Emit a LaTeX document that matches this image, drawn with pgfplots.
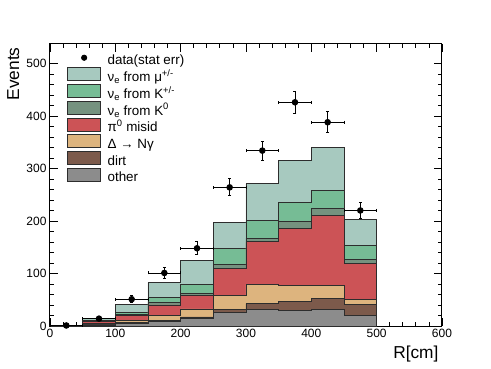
\documentclass[border=0pt]{standalone}
\usepackage{fontspec}
\setmainfont{Liberation Sans}
\usepackage{pgfplots}
\usepackage{pgfplotstable}
\pgfplotsset{compat=1.18}

\definecolor{cmu}{RGB}{167,201,191}
\definecolor{ckpm}{RGB}{118,188,149}
\definecolor{ckz}{RGB}{117,146,127}
\definecolor{cpi}{RGB}{204,83,86}
\definecolor{cdel}{RGB}{221,180,126}
\definecolor{cdirt}{RGB}{124,90,75}
\definecolor{coth}{RGB}{140,140,140}
\definecolor{edge}{RGB}{45,45,45}

% cumulative stack heights (top of each layer), bin left edges, last row repeats
\pgfplotstableread{
x    tot    kpm    kz     pi     del   dirt  oth
0    0.4    0.3    0.3    0.2    0.2   0.1   0.1
50   14.5   11.5   10.0   8.5    5.0   3.0   2.0
100  41.5   26.0   22.2   19.6   10.4  6.6   4.7
150  82.5   54.3   44.4   40.0   19.6  9.8   8.0
200  125.3  79.6   62.5   57.8   32.4  17.2  14.8
250  196.4  148.5  116.7  109.5  57.4  31.4  25.4
300  270.7  200.2  167.2  160.9  79.0  42.8  31.4
350  314.5  234.5  198.3  186.3  76.4  46.0  28.8
400  340.6  258.7  223.0  209.7  77.7  52.4  31.4
450  203.7  152.5  127.0  119.4  50.7  41.3  20.0
500  203.7  152.5  127.0  119.4  50.7  41.3  20.0
}\stack

\pgfplotstableread{
x    y    ex   ey
25   1    25   1.0
75   14   25   3.7
125  51   25   7.1
175  101  25   10.0
225  148  25   12.2
275  264  25   16.2
325  334  25   18.3
375  426  25   20.6
425  388  25   19.7
475  220  25   14.8
}\data

\begin{document}
\begin{tikzpicture}
\begin{axis}[
    at={(0,0)}, anchor=south west,
    scale only axis, width=392pt, height=282pt,
    xmin=0, xmax=600, ymin=0, ymax=537,
    xtick={0,100,...,600}, ytick={0,100,...,500},
    minor x tick num=4, minor y tick num=4,
    tick align=inside,
    major tick length=8pt, minor tick length=4pt,
    tick style={black, line width=0.8pt},
    axis line style={black, line width=1pt},
    /pgf/number format/assume math mode=true,
    ticklabel style={font=\fontsize{12}{14}\selectfont},
    xlabel={R[cm]}, ylabel={Events},
    label style={font=\fontsize{17.3}{20}\selectfont},
    xlabel style={at={(axis description cs:1,-0.117)}, anchor=base east},
    ylabel style={at={(axis description cs:-0.079,1)}, anchor=base east},
    legend style={at={(axis description cs:0.0434,0.975)}, anchor=north west,
        draw=none, fill=none, inner sep=0pt,
        font=\fontsize{13.4}{16}\selectfont,
        nodes={inner sep=0.5pt, text height=0.75em, text depth=0.2em},
        row sep=0pt, column sep=6pt, cells={anchor=west}},
    every axis plot/.append style={const plot mark left, draw=edge, line width=0.9pt},
]
\addlegendimage{legend image code/.code={\path[draw=none, fill=none] (0pt,-2pt) rectangle (33pt,11pt); \fill[black] (16.5pt,4.5pt) circle (2.6pt);}}
\addlegendentry{data(stat err)}
\addlegendimage{legend image code/.code={\draw[draw=edge, line width=0.9pt, fill=cmu] (0pt,-2pt) rectangle (33pt,11pt);}}
\addlegendentry{ν\textsubscript{e} from μ\textsuperscript{+/-}}
\addlegendimage{legend image code/.code={\draw[draw=edge, line width=0.9pt, fill=ckpm] (0pt,-2pt) rectangle (33pt,11pt);}}
\addlegendentry{ν\textsubscript{e} from K\textsuperscript{+/-}}
\addlegendimage{legend image code/.code={\draw[draw=edge, line width=0.9pt, fill=ckz] (0pt,-2pt) rectangle (33pt,11pt);}}
\addlegendentry{ν\textsubscript{e} from K\textsuperscript{0}}
\addlegendimage{legend image code/.code={\draw[draw=edge, line width=0.9pt, fill=cpi] (0pt,-2pt) rectangle (33pt,11pt);}}
\addlegendentry{π\textsuperscript{0} misid}
\addlegendimage{legend image code/.code={\draw[draw=edge, line width=0.9pt, fill=cdel] (0pt,-2pt) rectangle (33pt,11pt);}}
\addlegendentry{Δ → Nγ}
\addlegendimage{legend image code/.code={\draw[draw=edge, line width=0.9pt, fill=cdirt] (0pt,-2pt) rectangle (33pt,11pt);}}
\addlegendentry{dirt}
\addlegendimage{legend image code/.code={\draw[draw=edge, line width=0.9pt, fill=coth] (0pt,-2pt) rectangle (33pt,11pt);}}
\addlegendentry{other}

\addplot[fill=cmu, forget plot] table[x=x, y=tot] {\stack} \closedcycle;
\addplot[fill=ckpm, forget plot] table[x=x, y=kpm] {\stack} \closedcycle;
\addplot[fill=ckz, forget plot] table[x=x, y=kz] {\stack} \closedcycle;
\addplot[fill=cpi, forget plot] table[x=x, y=pi] {\stack} \closedcycle;
\addplot[fill=cdel, forget plot] table[x=x, y=del] {\stack} \closedcycle;
\addplot[fill=cdirt, forget plot] table[x=x, y=dirt] {\stack} \closedcycle;
\addplot[fill=coth, forget plot] table[x=x, y=oth] {\stack} \closedcycle;

\addplot[sharp plot, only marks, forget plot, mark=*, mark size=2.8pt, black,
    error bars/.cd, x dir=both, x explicit, y dir=both, y explicit,
    error mark options={rotate=90, mark size=1.5pt, line width=0.9pt},
    error bar style={line width=0.9pt, black}]
    table[x=x, y=y, x error=ex, y error=ey] {\data};
\end{axis}
\useasboundingbox (-50pt,-42pt) rectangle (441pt,326pt);
\end{tikzpicture}
\end{document}
